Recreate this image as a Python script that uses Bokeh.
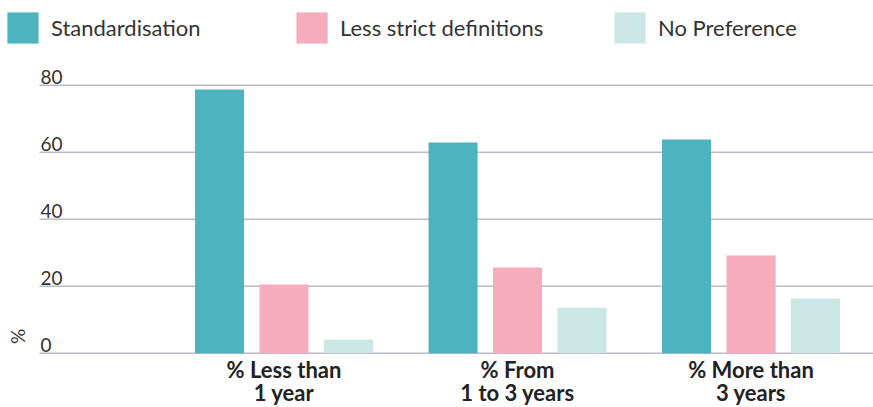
from bokeh.plotting import figure
from bokeh.models import Range1d, ColumnDataSource, Legend, LegendItem
from bokeh.core.properties import value
from bokeh.embed import file_html
from bokeh.resources import INLINE

# ---- data ----
categories = ["% Less than\n1 year", "% From\n1 to 3 years", "% More than\n3 years"]
series_names = ["Standardisation", "Less strict definitions", "No Preference"]
standardisation = [78.7, 62.9, 63.8]
less_strict = [20.5, 25.6, 29.2]
no_preference = [4.1, 13.6, 16.3]
y_ticks = [0, 20, 40, 60, 80]
y_label = "%"

# ---- style ----
colors = ["#4db3be", "#f5acbd", "#cae7e6"]
text_color = "#333333"
grid_color = "#bcbac4"
FONT = "Lato"

W, H = 873, 407
PX_PER_GROUP = 233.5
GROUP0_PX = 283.5
PX_PER_UNIT = 3.35
ZERO_PX = 352.7

x_start = -GROUP0_PX / PX_PER_GROUP
x_end = x_start + W / PX_PER_GROUP
y_end = ZERO_PX / PX_PER_UNIT
y_start = (ZERO_PX - H) / PX_PER_UNIT

def px_x(px):
    return (px - GROUP0_PX) / PX_PER_GROUP

def px_y(px):
    return (ZERO_PX - px) / PX_PER_UNIT

p = figure(width=W, height=H, x_range=Range1d(x_start, x_end), y_range=Range1d(y_start, y_end),
           output_backend="svg", toolbar_location=None, min_border=0)
p.axis.visible = False
p.grid.visible = False
p.outline_line_color = None
p.background_fill_color = "white"
p.border_fill_color = "white"

# gridlines
p.segment(x0=[px_x(39)] * len(y_ticks), x1=[x_end] * len(y_ticks), y0=y_ticks, y1=y_ticks,
          line_color=grid_color, line_width=1.6)

# y tick labels above gridlines
p.text(x=[px_x(40)] * len(y_ticks), y=y_ticks, text=[str(t) for t in y_ticks],
       text_font=value(FONT), text_font_size="19px", text_color=text_color,
       text_align="left", text_baseline="alphabetic", y_offset=-8)

# y axis label
p.text(x=[px_x(17)], y=[px_y(336)], text=[y_label], angle=1.5708,
       text_font=value(FONT), text_font_size="19px", text_color=text_color,
       text_align="center", text_baseline="middle")

# bars
offsets = [-0.276, 0.0, 0.276]
bar_w = 0.21
idx = list(range(len(categories)))
renderers = []
for vals, off, col in zip([standardisation, less_strict, no_preference], offsets, colors):
    src = ColumnDataSource(dict(x=[i + off for i in idx], top=vals))
    r = p.vbar(x="x", top="top", bottom=0, width=bar_w, source=src, fill_color=col, line_color=None)
    renderers.append(r)

# category labels
p.text(x=idx, y=[px_y(355)] * len(idx), text=categories,
       text_font=value(FONT), text_font_size="22px", text_font_style="bold",
       text_color="#222222", text_align="center", text_baseline="top", text_line_height=0.86)

# legends (three separate to match spacing)
legend_x = [3, 292, 610]
for name, r, lx in zip(series_names, renderers, legend_x):
    lg = Legend(items=[LegendItem(label=name, renderers=[r])], location=(lx, H - 47),
                orientation="horizontal", padding=0, margin=0, border_line_alpha=0,
                background_fill_alpha=0, glyph_width=39, glyph_height=39, label_height=39,
                label_standoff=9, label_text_font=FONT, label_text_font_size="22px",
                label_text_color=text_color, label_text_baseline="middle")
    p.add_layout(lg, "center")

open("out.html", "w").write(file_html(p, INLINE))
